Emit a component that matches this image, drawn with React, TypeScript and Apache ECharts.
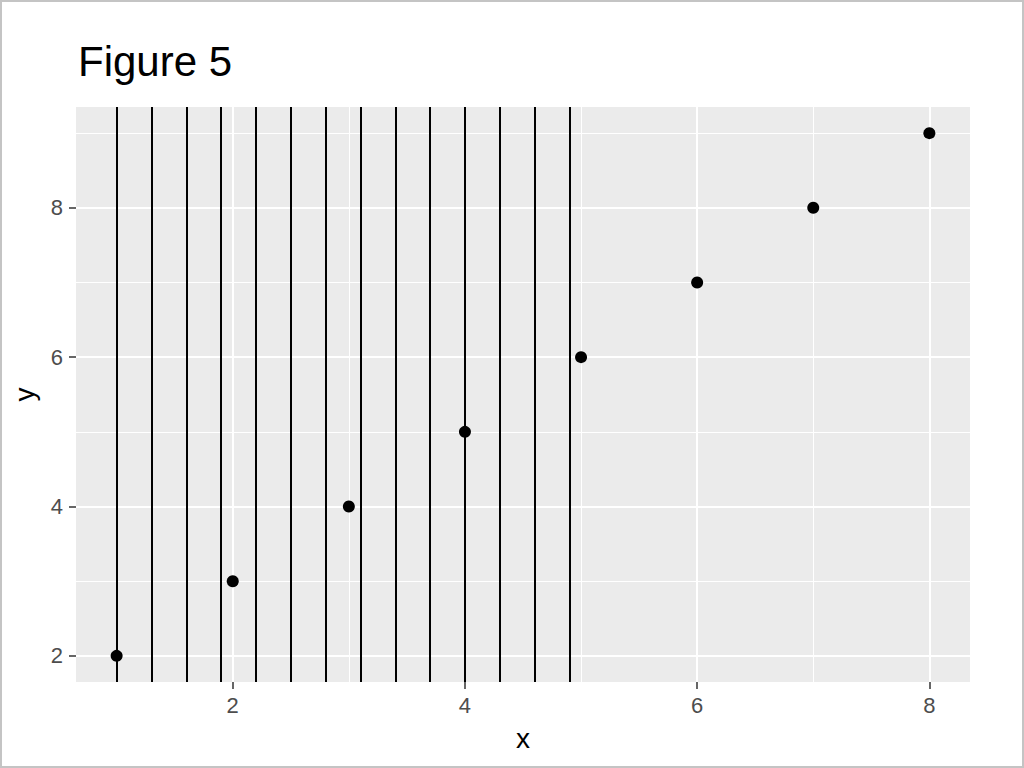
import * as echarts from "echarts";
import { useEffect, useRef } from "react";

const pointX = [1, 2, 3, 4, 5, 6, 7, 8];
const pointY = [2, 3, 4, 5, 6, 7, 8, 9];
const vlineX = [1, 1.3, 1.6, 1.9, 2.2, 2.5, 2.8, 3.1, 3.4, 3.7, 4, 4.3, 4.6, 4.9];
const xBreaks = [2, 4, 6, 8];
const xMinor = [1, 3, 5, 7];
const yBreaks = [2, 4, 6, 8];
const yMinor = [3, 5, 7, 9];

const FONT = "'Liberation Sans', Arial, sans-serif";

export default function App() {
	const chartRef = useRef<HTMLDivElement>(null);

	useEffect(() => {
		if (!chartRef.current) return;
		document.body.style.margin = "0";

		const chart = echarts.init(chartRef.current, undefined, { renderer: "svg" });

		const gridLine = (axis: "xAxis" | "yAxis", v: number, width: number) => ({
			[axis]: v,
			lineStyle: { color: "#ffffff", width, type: "solid" as const }
		});

		const tickAxis = (breaks: number[], margin: number) => ({
			type: "value" as const,
			axisLine: { show: false },
			axisTick: {
				show: true,
				length: 7,
				customValues: breaks,
				lineStyle: { color: "#333333", width: 1.5 }
			},
			axisLabel: {
				customValues: breaks,
				margin,
				fontSize: 22,
				fontFamily: FONT,
				color: "#4d4d4d"
			},
			splitLine: { show: false },
			nameLocation: "middle" as const,
			nameTextStyle: { fontSize: 28, fontFamily: FONT, color: "#000000" }
		});

		chart.setOption({
			animation: false,
			title: {
				text: "Figure 5",
				left: 73,
				top: 35,
				textStyle: { fontSize: 42, fontWeight: "normal", fontFamily: FONT, color: "#000000" }
			},
			graphic: [
				{
					type: "rect",
					shape: { x: 1, y: 1, width: 1022, height: 766 },
					style: { fill: "none", stroke: "#c4c4c4", lineWidth: 2 },
					silent: true
				}
			],
			grid: {
				left: 76,
				top: 107,
				right: 54,
				bottom: 86,
				show: true,
				backgroundColor: "#ebebeb",
				borderWidth: 0
			},
			xAxis: {
				...tickAxis(xBreaks, 12),
				min: 0.65,
				max: 8.35,
				name: "x",
				nameGap: 42
			},
			yAxis: {
				...tickAxis(yBreaks, 13),
				min: 1.65,
				max: 9.35,
				name: "y",
				nameGap: 38
			},
			series: [
				{
					type: "line",
					data: [],
					z: 1,
					markLine: {
						z: 1,
						silent: true,
						symbol: ["none", "none"],
						label: { show: false },
						data: [
							...xMinor.map(v => gridLine("xAxis", v, 1)),
							...yMinor.map(v => gridLine("yAxis", v, 1)),
							...xBreaks.map(v => gridLine("xAxis", v, 2)),
							...yBreaks.map(v => gridLine("yAxis", v, 2))
						]
					}
				},
				{
					type: "line",
					data: [],
					z: 2,
					markLine: {
						z: 2,
						silent: true,
						symbol: ["none", "none"],
						label: { show: false },
						lineStyle: { color: "#000000", width: 2, type: "solid" },
						data: vlineX.map(v => ({ xAxis: v }))
					}
				},
				{
					type: "scatter",
					z: 10,
					symbolSize: 12,
					itemStyle: { color: "#000000", opacity: 1 },
					data: pointX.map((x, i) => [x, pointY[i]])
				}
			]
		});

		return () => chart.dispose();
	}, []);

	return <div ref={chartRef} style={{ width: 1024, height: 768 }} />;
}
